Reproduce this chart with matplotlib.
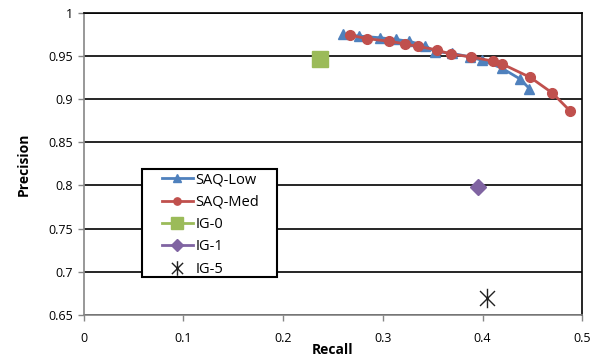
import matplotlib

matplotlib.use("Agg")
import matplotlib.pyplot as plt  # noqa: E402
from matplotlib.patches import Rectangle  # noqa: E402
from matplotlib.path import Path  # noqa: E402

# data
saq_low_recall = [0.260, 0.276, 0.297, 0.313, 0.326, 0.342, 0.352, 0.369,
                  0.387, 0.399, 0.419, 0.438, 0.447]
saq_low_prec = [0.975, 0.973, 0.971, 0.969, 0.967, 0.962, 0.955, 0.953,
                0.949, 0.945, 0.936, 0.923, 0.912]
saq_med_recall = [0.267, 0.284, 0.306, 0.322, 0.335, 0.354, 0.368, 0.388,
                  0.410, 0.419, 0.448, 0.470, 0.488]
saq_med_prec = [0.974, 0.970, 0.967, 0.964, 0.961, 0.957, 0.952, 0.949,
                0.944, 0.941, 0.925, 0.907, 0.886]
ig0 = (0.237, 0.946)
ig1 = (0.395, 0.798)
ig5 = (0.404, 0.670)

x_ticks = [0, 0.1, 0.2, 0.3, 0.4, 0.5]
y_ticks = [0.65, 0.7, 0.75, 0.8, 0.85, 0.9, 0.95, 1.0]
y_labels = ["0.65", "0.7", "0.75", "0.8", "0.85", "0.9", "0.95", "1"]

BLUE = "#4F81BD"
RED = "#C0504D"
GREEN = "#9BBB59"
PURPLE = "#8064A2"
AXIS_GRAY = "#868686"

# Excel-style star: an X with a vertical bar through it
STAR = Path(
    [(-1, -1), (1, 1), (-1, 1), (1, -1), (0, -1.3), (0, 1.3)],
    [Path.MOVETO, Path.LINETO, Path.MOVETO, Path.LINETO, Path.MOVETO, Path.LINETO],
)

plt.rcParams["font.family"] = ["Open Sans", "DejaVu Sans"]

W, H = 600, 358
fig = plt.figure(figsize=(W / 100, H / 100), dpi=100)
ax = fig.add_axes([0.1395, 0.120, 0.831, 0.8445])

ax.plot(saq_low_recall, saq_low_prec, color=BLUE, lw=2, marker="^",
        ms=7, label="SAQ-Low", zorder=3)
ax.plot(saq_med_recall, saq_med_prec, color=RED, lw=2, marker="o",
        ms=7, label="SAQ-Med", zorder=4)
ax.plot([ig0[0]], [ig0[1]], color=GREEN, lw=2, marker="s", ms=11,
        label="IG-0", zorder=3)
ax.plot([ig1[0]], [ig1[1]], color=PURPLE, lw=2, marker="D", ms=8,
        label="IG-1", zorder=3)
ax.plot([ig5[0]], [ig5[1]], color="#222222", lw=0, marker=STAR, ms=14,
        mew=1.0, label="IG-5", zorder=3)

ax.set_xlim(0, 0.5)
ax.set_ylim(0.65, 1.0)
ax.set_xticks(x_ticks)
ax.set_xticklabels(["0", "0.1", "0.2", "0.3", "0.4", "0.5"])
ax.set_yticks(y_ticks)
ax.set_yticklabels(y_labels)
ax.grid(axis="y", color="black", lw=1.2)
ax.set_axisbelow(True)

for side in ("top", "right"):
    ax.spines[side].set_color("black")
    ax.spines[side].set_linewidth(1.2)
for side in ("left", "bottom"):
    ax.spines[side].set_color(AXIS_GRAY)
    ax.spines[side].set_linewidth(1.2)
ax.tick_params(colors=AXIS_GRAY, labelcolor="black", labelsize=9,
               length=4, width=1)
ax.tick_params(axis="x", pad=8)

ax.set_xlabel("Recall", fontsize=10, fontweight="bold", labelpad=-1)
ax.set_ylabel("Precision", fontsize=10, fontweight="bold", labelpad=13)

# legend box drawn separately so it can match the reference size exactly
box = Rectangle((141.7 / W, 1 - 277.3 / H), 135 / W, 108 / H,
                transform=fig.transFigure, facecolor="white",
                edgecolor="black", lw=1.5, zorder=1)
fig.add_artist(box)

handles, labels = ax.get_legend_handles_labels()
leg = fig.legend(handles, labels, loc="upper left",
                 bbox_to_anchor=(162 / W, 1 - 172.5 / H), frameon=False,
                 fontsize=10.5, handlelength=2.1, markerscale=0.75,
                 borderpad=0, labelspacing=0.5, handletextpad=0.2,
                 borderaxespad=0)
leg.set_zorder(2)

fig.savefig("out.png", dpi=100)
